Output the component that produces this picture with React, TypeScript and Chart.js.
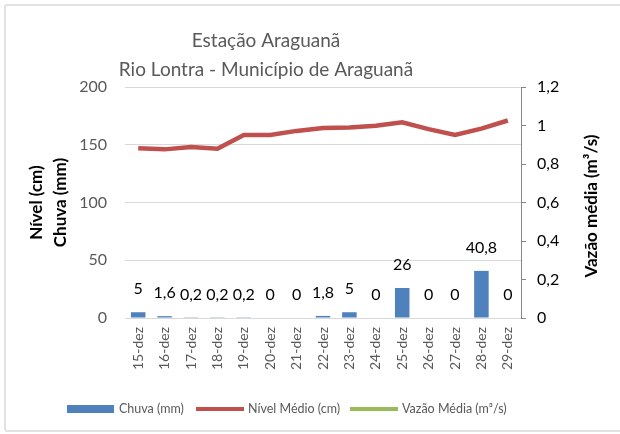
import { useEffect, useRef } from "react";
import { Chart, registerables } from "chart.js";

Chart.register(...registerables);

const categories = ["15-dez", "16-dez", "17-dez", "18-dez", "19-dez", "20-dez", "21-dez", "22-dez", "23-dez", "24-dez", "25-dez", "26-dez", "27-dez", "28-dez", "29-dez"];
const chuva = [5, 1.6, 0.2, 0.2, 0.2, 0, 0, 1.8, 5, 0, 26, 0, 0, 40.8, 0];
const nivel = [147, 146, 148, 146.6, 158.5, 158.5, 162, 164.5, 165, 166.5, 169.5, 163.5, 158.5, 164, 171];
const vazao: (number | null)[] = [null, null, null, null, null, null, null, null, null, null, null, null, null, null, null];
const titleLines = ["Estação Araguanã", "Rio Lontra - Município de Araguanã"];
const leftTitle = ["Nível (cm)", "Chuva (mm)"];
const rightTitle = "Vazão média (m³/s)";
const legendLabels = ["Chuva (mm)", "Nível Médio (cm)", "Vazão Média (m³/s)"];

const FONT = "Lato";
const BLUE = "#4f81bd";
const RED = "#c0504d";
const GREEN = "#9bbb59";
const GRAY = "#595959";

const fmt = (v: number) => String(v).replace(".", ",");

const decorPlugin = {
  id: "decor",
  afterDatasetsDraw(chart: any) {
    const ctx = chart.ctx as CanvasRenderingContext2D;
    ctx.save();
    const meta = chart.getDatasetMeta(0);
    ctx.fillStyle = "#000";
    ctx.font = `16px ${FONT}`;
    ctx.textAlign = "center";
    ctx.textBaseline = "middle";
    meta.data.forEach((el: any, i: number) => {
      ctx.fillText(fmt(chuva[i]), el.x, el.y - 23);
    });
    ctx.restore();
  },
  afterDraw(chart: any) {
    const ctx = chart.ctx as CanvasRenderingContext2D;
    ctx.save();
    ctx.fillStyle = GRAY;
    ctx.font = `19px ${FONT}`;
    ctx.textAlign = "center";
    ctx.textBaseline = "middle";
    ctx.fillText(titleLines[0], 266, 41);
    ctx.fillText(titleLines[1], 266, 70);
    ctx.save();
    ctx.translate(592, 206);
    ctx.rotate(-Math.PI / 2);
    ctx.fillStyle = "#000";
    ctx.font = `bold 17px ${FONT}`;
    ctx.fillText(rightTitle, 0, 0);
    ctx.restore();
    ctx.font = `12.5px ${FONT}`;
    ctx.textAlign = "left";
    ctx.textBaseline = "middle";
    const ly = 409;
    const items = [
      { x: 67, color: BLUE, type: "box" },
      { x: 196, color: RED, type: "line" },
      { x: 350, color: GREEN, type: "line" },
    ];
    items.forEach((it, i) => {
      ctx.fillStyle = it.color;
      if (it.type === "box") ctx.fillRect(it.x, ly - 4, 47, 8);
      else ctx.fillRect(it.x, ly - 2, 48, 4);
      ctx.fillStyle = GRAY;
      ctx.fillText(legendLabels[i], it.x + 52, ly);
    });
    ctx.restore();
  },
};

export default function App() {
  const ref = useRef<HTMLCanvasElement | null>(null);
  useEffect(() => {
    document.body.style.margin = "0";
    const chart = new Chart(ref.current!, {
      type: "bar",
      data: {
        labels: categories,
        datasets: [
          {
            type: "bar",
            label: legendLabels[0],
            data: chuva,
            backgroundColor: BLUE,
            yAxisID: "y",
            barPercentage: 0.55,
            categoryPercentage: 1,
            order: 2,
          },
          {
            type: "line",
            label: legendLabels[1],
            data: nivel,
            borderColor: RED,
            backgroundColor: RED,
            borderWidth: 4.5,
            pointRadius: 0,
            tension: 0,
            yAxisID: "y",
            order: 1,
          },
          {
            type: "line",
            label: legendLabels[2],
            data: vazao,
            borderColor: GREEN,
            backgroundColor: GREEN,
            borderWidth: 4.5,
            pointRadius: 0,
            yAxisID: "y1",
            order: 0,
          },
        ],
      },
      options: {
        animation: false,
        responsive: false,
        maintainAspectRatio: false,
        layout: { padding: { top: 87, left: 0, right: 0, bottom: 0 } },
        plugins: {
          legend: { display: false },
          title: { display: false },
          tooltip: { enabled: false },
        },
        scales: {
          x: {
            grid: { display: false, drawTicks: false },
            border: { color: "#d9d9d9" },
            ticks: {
              color: GRAY,
              font: { family: FONT, size: 14 },
              minRotation: 90,
              maxRotation: 90,
              padding: 9,
              autoSkip: false,
            },
            afterFit: (s: any) => {
              s.height = 116;
            },
          },
          y: {
            position: "left",
            min: 0,
            max: 200,
            ticks: {
              stepSize: 50,
              color: GRAY,
              font: { family: FONT, size: 16 },
              padding: 18,
            },
            grid: { color: "#d9d9d9", drawTicks: false },
            border: { display: false },
            title: {
              display: true,
              text: leftTitle,
              color: "#000",
              font: { family: FONT, size: 17, weight: "bold", lineHeight: 1.4 },
              padding: { top: 25, bottom: 0 },
            },
            afterFit: (s: any) => {
              s.width = 125;
            },
          },
          y1: {
            position: "right",
            min: 0,
            max: 1.2,
            ticks: {
              stepSize: 0.2,
              color: "#000",
              font: { family: FONT, size: 16 },
              padding: 11,
              callback: (v: any) => fmt(Math.round(Number(v) * 10) / 10),
            },
            grid: { drawOnChartArea: false, drawTicks: true, tickLength: 5, color: "#868686" },
            border: { display: true, color: "#868686" },
            afterFit: (s: any) => {
              s.width = 99;
            },
          },
        },
      },
      plugins: [decorPlugin],
    });
    return () => chart.destroy();
  }, []);
  return (
    <div style={{ position: "relative", width: 620, height: 434, overflow: "hidden", background: "#fff" }}>
      <div
        style={{
          position: "absolute",
          left: 4,
          top: 4,
          width: 660,
          height: 424,
          border: "2px solid #e2e2e2",
          borderRadius: 3,
        }}
      />
      <canvas ref={ref} width={620} height={434} style={{ position: "absolute", left: 0, top: 0, display: "block" }} />
    </div>
  );
}
